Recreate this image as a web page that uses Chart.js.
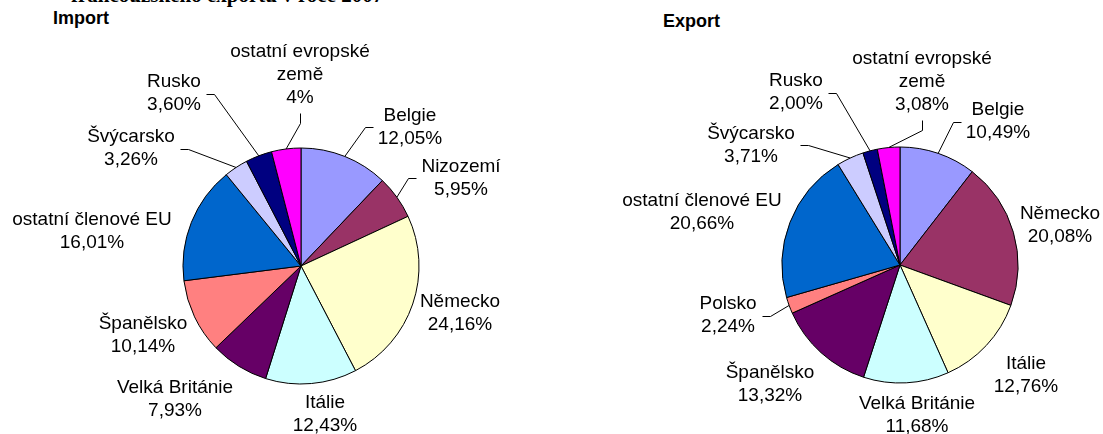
<!DOCTYPE html>
<html>
<head>
<meta charset="utf-8">
<script src="https://cdn.jsdelivr.net/npm/chart.js@4"></script>
<style>
  body { margin: 0; background: #fff; }
  #wrap { position: relative; width: 1103px; height: 434px; overflow: hidden; }
  #title-top { position: absolute; left: 71px; top: -17px; font: bold 21px "Liberation Serif", "Times New Roman", serif; white-space: nowrap; }
  .sub { position: absolute; font: bold 18px "Liberation Sans", Arial, sans-serif; }
  #import-chart { position: absolute; left: 0; top: 0; }
  #export-chart { position: absolute; left: 551px; top: 0; }
</style>
</head>
<body>
<div id="wrap">
  <div id="title-top">francouzského exportu v roce 2007</div>
  <div class="sub" style="left:53px; top:8px;">Import</div>
  <div class="sub" style="left:663px; top:11px;">Export</div>
  <canvas id="import-chart" width="551" height="434"></canvas>
  <canvas id="export-chart" width="552" height="434"></canvas>
</div>
<script>
// Import
const importLabels = ['Belgie', 'Nizozemí', 'Německo', 'Itálie', 'Velká Británie', 'Španělsko',
  'ostatní členové EU', 'Švýcarsko', 'Rusko', 'ostatní evropské\nzemě'];
const importValues = [12.05, 5.95, 24.16, 12.43, 7.93, 10.14, 16.01, 3.26, 3.60, 4];
const importDecimals = [2, 2, 2, 2, 2, 2, 2, 2, 2, 0];

// Export
const exportLabels = ['Belgie', 'Německo', 'Itálie', 'Velká Británie', 'Španělsko', 'Polsko',
  'ostatní členové EU', 'Švýcarsko', 'Rusko', 'ostatní evropské\nzemě'];
const exportValues = [10.49, 20.08, 12.76, 11.68, 13.32, 2.24, 20.66, 3.71, 2.00, 3.08];
const exportDecimals = [2, 2, 2, 2, 2, 2, 2, 2, 2, 2];

const colors = ['#9999FF', '#993366', '#FFFFCC', '#CCFFFF', '#660066', '#FF8080',
  '#0066CC', '#CCCCFF', '#000080', '#FF00FF'];

// label placement, relative to pie centre
const importLabelPos = [[109,-139],[160,-88],[159,47.5],[24,148.5],[-126,133],[-158,69.5],
  [-209,-35],[-170,-117.5],[-127,-172.5],[-1,-191]];
const importLeader = [true, true, false, false, false, false, false, true, true, true];
const exportLabelPos = [[98,-143.5],[160,-40],[126,110],[17,150.5],[-130,119],[-172,50.5],
  [-198,-52.5],[-149,-120],[-104,-172.5],[22,-183]];
const exportLeader = [true, false, false, false, false, true, false, true, true, true];

function fmtPct(v, dec){
  return v.toFixed(dec).replace('.', ',') + '%';
}

const LINE_H = 23;
const FONT = '19px "Liberation Sans", Arial, sans-serif';

const pieLabels = {
  id: 'pieLabels',
  afterDraw(chart, args, opts){
    const ctx = chart.ctx;
    const meta = chart.getDatasetMeta(0);
    const ds = chart.data.datasets[0];
    ctx.save();
    ctx.font = FONT;
    ctx.fillStyle = '#000';
    ctx.strokeStyle = '#000';
    ctx.lineWidth = 1;
    ctx.textAlign = 'center';
    ctx.textBaseline = 'middle';
    meta.data.forEach((arc, i) => {
      const p = arc.getProps(['x','y','startAngle','endAngle','outerRadius'], true);
      const lines = chart.data.labels[i].split('\n').concat(fmtPct(ds.data[i], opts.decimals[i]));
      const cx = p.x + opts.pos[i][0];
      const cy = p.y + opts.pos[i][1];
      const h = lines.length * LINE_H;
      let w = 0;
      lines.forEach((t, k) => {
        w = Math.max(w, ctx.measureText(t).width);
        ctx.fillText(t, cx, cy - h / 2 + LINE_H / 2 + k * LINE_H);
      });
      if (!opts.leader[i]) return;
      const mid = (p.startAngle + p.endAngle) / 2;
      const ax = p.x + Math.cos(mid) * p.outerRadius;
      const ay = p.y + Math.sin(mid) * p.outerRadius;
      let sx, sy, ex, ey;
      if (cy + h / 2 < ay && Math.abs(cx - ax) < w / 2) {
        sx = cx; sy = cy + h / 2 + 3; ex = cx; ey = sy + 10;
      } else if (cx > ax) {
        sx = cx - w / 2 - 5; sy = cy; ex = sx - 8; ey = cy;
      } else {
        sx = cx + w / 2 + 5; sy = cy; ex = sx + 8; ey = cy;
      }
      ctx.beginPath();
      ctx.moveTo(Math.round(sx) + 0.5, Math.round(sy) + 0.5);
      ctx.lineTo(Math.round(ex) + 0.5, Math.round(ey) + 0.5);
      ctx.lineTo(ax, ay);
      ctx.stroke();
    });
    ctx.restore();
  }
};

function makePie(id, labels, values, padding, pos, leader, decimals){
  new Chart(document.getElementById(id), {
    type: 'pie',
    data: {
      labels: labels,
      datasets: [{
        data: values,
        backgroundColor: colors,
        borderColor: '#000',
        borderWidth: 1
      }]
    },
    options: {
      responsive: false,
      animation: false,
      radius: 118,
      layout: { padding: padding },
      plugins: {
        legend: { display: false },
        tooltip: { enabled: false },
        pieLabels: { pos: pos, leader: leader, decimals: decimals }
      }
    },
    plugins: [pieLabels]
  });
}

makePie('import-chart', importLabels, importValues,
  { left: 183, right: 132, top: 148, bottom: 50 }, importLabelPos, importLeader, importDecimals);
makePie('export-chart', exportLabels, exportValues,
  { left: 231, right: 85, top: 147, bottom: 51 }, exportLabelPos, exportLeader, exportDecimals);
</script>
</body>
</html>
